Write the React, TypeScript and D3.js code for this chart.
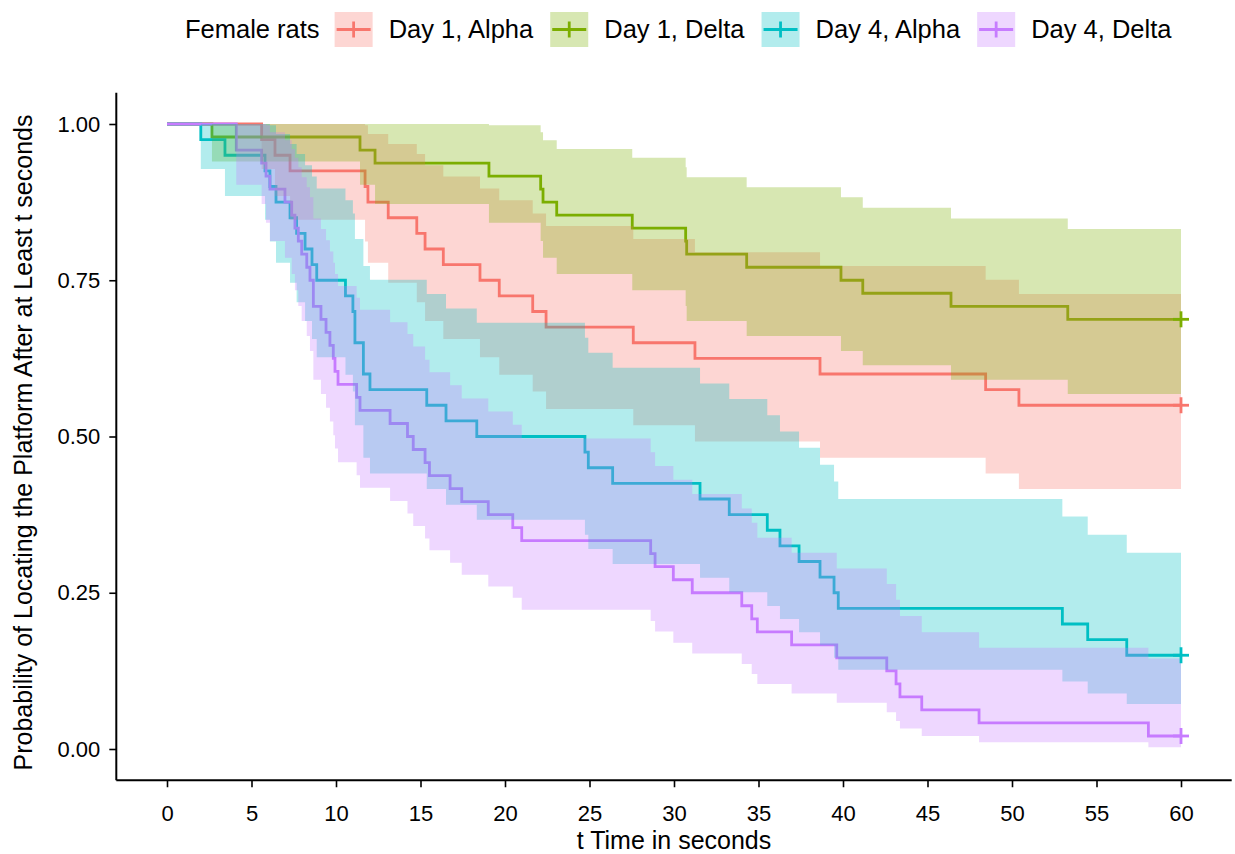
import React, { useEffect, useRef } from 'react';
import * as d3 from 'd3';

// groups, in legend order
const groupNames = ['Day 1, Alpha', 'Day 1, Delta', 'Day 4, Alpha', 'Day 4, Delta'];
const groupColors = ['#F8766D', '#7CAE00', '#00BFC4', '#C77CFF'];
const legendTitle = 'Female rats';

const xTicks = [0, 5, 10, 15, 20, 25, 30, 35, 40, 45, 50, 55, 60];
const yTicks = [0, 0.25, 0.5, 0.75, 1];

// Day 1, Alpha
const d1AlphaTime = [0, 5.6, 6.39, 7.28, 11.72, 11.89, 13.09, 14.78, 15.27, 16.35, 18.52, 19.66, 21.64, 22.43, 27.59, 31.24, 38.64, 48.44, 50.41, 60];
const d1AlphaSurv = [1, 0.975, 0.95, 0.925, 0.9, 0.875, 0.85, 0.825, 0.8, 0.775, 0.75, 0.725, 0.7, 0.675, 0.65, 0.625, 0.6, 0.575, 0.55, 0.55];
const d1AlphaUpper = [1, 1, 1, 1, 0.998, 0.984, 0.968, 0.952, 0.934, 0.916, 0.897, 0.878, 0.857, 0.837, 0.816, 0.795, 0.773, 0.751, 0.728, 0.728];
const d1AlphaLower = [1, 0.928, 0.885, 0.847, 0.812, 0.778, 0.746, 0.715, 0.685, 0.656, 0.627, 0.599, 0.572, 0.544, 0.518, 0.492, 0.466, 0.441, 0.416, 0.416];

// Day 1, Delta
const d1DeltaTime = [0, 2.66, 11.42, 12.31, 19.05, 22.11, 22.25, 23.06, 27.53, 30.69, 30.75, 34.3, 39.88, 41.17, 46.39, 53.3, 60];
const d1DeltaSurv = [1, 0.9792, 0.9583, 0.9375, 0.9167, 0.8958, 0.875, 0.8542, 0.8333, 0.8125, 0.7917, 0.7708, 0.75, 0.7292, 0.7083, 0.6875, 0.6875];
const d1DeltaUpper = [1, 1, 1, 1, 0.998, 0.987, 0.974, 0.96, 0.946, 0.931, 0.915, 0.899, 0.883, 0.866, 0.849, 0.832, 0.832];
const d1DeltaLower = [1, 0.94, 0.903, 0.872, 0.842, 0.813, 0.786, 0.76, 0.734, 0.709, 0.685, 0.661, 0.637, 0.614, 0.591, 0.568, 0.568];

// Day 4, Alpha
const d4AlphaTime = [0, 2.0, 3.43, 5.8, 6.09, 6.45, 7.28, 7.67, 8.17, 8.58, 8.86, 10.56, 11.0, 11.12, 11.62, 12.01, 15.37, 16.51, 18.33, 24.73, 24.93, 26.37, 31.54, 33.27, 35.52, 36.27, 37.4, 38.64, 39.47, 39.72, 52.98, 54.48, 56.79, 60];
const d4AlphaSurv = [1, 0.975, 0.95, 0.925, 0.9, 0.875, 0.85, 0.825, 0.8, 0.775, 0.75, 0.725, 0.7, 0.65, 0.6, 0.575, 0.55, 0.525, 0.5, 0.475, 0.45, 0.425, 0.4, 0.375, 0.35, 0.325, 0.3, 0.275, 0.25, 0.225, 0.2, 0.175, 0.15, 0.15];
const d4AlphaUpper = [1, 1, 1, 1, 0.998, 0.984, 0.968, 0.952, 0.934, 0.916, 0.897, 0.878, 0.857, 0.816, 0.773, 0.751, 0.728, 0.705, 0.682, 0.658, 0.634, 0.61, 0.585, 0.56, 0.534, 0.508, 0.482, 0.455, 0.428, 0.4, 0.372, 0.343, 0.314, 0.314];
const d4AlphaLower = [1, 0.928, 0.885, 0.847, 0.812, 0.778, 0.746, 0.715, 0.685, 0.656, 0.627, 0.599, 0.572, 0.518, 0.466, 0.441, 0.416, 0.391, 0.367, 0.343, 0.32, 0.296, 0.274, 0.251, 0.229, 0.208, 0.187, 0.166, 0.146, 0.127, 0.108, 0.089, 0.072, 0.072];

// Day 4, Delta
const d4DeltaTime = [0, 4.1, 5.6, 5.86, 6.09, 6.98, 7.38, 7.57, 7.77, 7.97, 8.27, 8.46, 8.66, 9.11, 9.41, 9.64, 9.84, 9.94, 10.12, 11.22, 11.42, 13.2, 14.23, 14.57, 15.27, 15.53, 16.75, 17.44, 19.01, 20.46, 20.99, 28.62, 28.88, 29.96, 31.08, 34.01, 34.6, 34.93, 36.96, 39.63, 42.59, 43.14, 43.37, 44.66, 48.05, 58.07, 60];
const d4DeltaSurv = [1, 0.9583, 0.9375, 0.9167, 0.8958, 0.875, 0.8542, 0.8333, 0.8125, 0.7917, 0.7708, 0.75, 0.7083, 0.6875, 0.6667, 0.6458, 0.625, 0.6042, 0.5833, 0.5625, 0.5417, 0.5208, 0.5, 0.4792, 0.4583, 0.4375, 0.4167, 0.3958, 0.375, 0.3542, 0.3333, 0.3125, 0.2917, 0.2708, 0.25, 0.2292, 0.2083, 0.1875, 0.1667, 0.1458, 0.125, 0.1042, 0.0833, 0.0625, 0.0417, 0.0208, 0.0208];
const d4DeltaUpper = [1, 1, 1, 0.998, 0.987, 0.974, 0.96, 0.946, 0.931, 0.915, 0.899, 0.883, 0.849, 0.832, 0.814, 0.796, 0.778, 0.76, 0.741, 0.722, 0.703, 0.683, 0.664, 0.644, 0.623, 0.603, 0.582, 0.561, 0.54, 0.519, 0.497, 0.475, 0.453, 0.431, 0.408, 0.385, 0.362, 0.338, 0.314, 0.289, 0.264, 0.239, 0.213, 0.187, 0.162, 0.145, 0.145];
const d4DeltaLower = [1, 0.903, 0.872, 0.842, 0.813, 0.786, 0.76, 0.734, 0.709, 0.685, 0.661, 0.637, 0.591, 0.568, 0.546, 0.524, 0.502, 0.481, 0.459, 0.438, 0.418, 0.397, 0.377, 0.357, 0.337, 0.318, 0.298, 0.279, 0.26, 0.242, 0.223, 0.205, 0.188, 0.17, 0.153, 0.136, 0.12, 0.104, 0.089, 0.074, 0.059, 0.045, 0.033, 0.021, 0.011, 0.003, 0.003];

const FONT = "'Liberation Sans', Arial, sans-serif";

type Pt = { t: number; s: number; hi: number; lo: number };

function zipCurve(t: number[], s: number[], hi: number[], lo: number[]): Pt[] {
  return t.map((v, i) => ({ t: v, s: s[i], hi: hi[i], lo: lo[i] }));
}

export default function App() {
  const svgRef = useRef<SVGSVGElement>(null);

  useEffect(() => {
    const curves = [
      zipCurve(d1AlphaTime, d1AlphaSurv, d1AlphaUpper, d1AlphaLower),
      zipCurve(d1DeltaTime, d1DeltaSurv, d1DeltaUpper, d1DeltaLower),
      zipCurve(d4AlphaTime, d4AlphaSurv, d4AlphaUpper, d4AlphaLower),
      zipCurve(d4DeltaTime, d4DeltaSurv, d4DeltaUpper, d4DeltaLower),
    ];

    const svg = d3.select(svgRef.current);
    svg.selectAll('*').remove();

    // panel with ggplot's 5% expansion
    const x = d3.scaleLinear().domain([-3, 63]).range([116.3, 1231.7]);
    const y = d3.scaleLinear().domain([-0.05, 1.05]).range([780.25, 92.75]);

    const line = d3.line<Pt>()
      .x(d => x(d.t))
      .y(d => y(d.s))
      .curve(d3.curveStepAfter);

    const band = d3.area<Pt>()
      .x(d => x(d.t))
      .y0(d => y(d.lo))
      .y1(d => y(d.hi))
      .curve(d3.curveStepAfter);

    // step lines first, ribbons go over them
    svg.append('g')
      .selectAll('path')
      .data(curves)
      .join('path')
        .attr('d', d => line(d))
        .attr('fill', 'none')
        .attr('stroke', (d, i) => groupColors[i])
        .attr('stroke-width', 2.8);

    svg.append('g')
      .selectAll('path')
      .data(curves)
      .join('path')
        .attr('d', d => band(d))
        .attr('fill', (d, i) => groupColors[i])
        .attr('fill-opacity', 0.3);

    // censor marks at the last time
    const cens = svg.append('g')
      .selectAll('g')
      .data(curves)
      .join('g')
        .attr('transform', d => `translate(${x(d[d.length - 1].t)},${y(d[d.length - 1].s)})`)
        .attr('stroke', (d, i) => groupColors[i])
        .attr('stroke-width', 2.8);
    cens.append('line').attr('x1', -8).attr('x2', 8);
    cens.append('line').attr('y1', -8).attr('y2', 8);

    // axes
    const xAxis = d3.axisBottom(x).tickValues(xTicks).tickSize(7).tickPadding(18).tickSizeOuter(0);
    const gx = svg.append('g').attr('transform', `translate(0,${y(-0.05)})`).call(xAxis);
    const yAxis = d3.axisLeft(y).tickValues(yTicks).tickFormat(d3.format('.2f')).tickSize(7).tickPadding(9).tickSizeOuter(0);
    const gy = svg.append('g').attr('transform', `translate(${x(-3)},0)`).call(yAxis);

    [gx, gy].forEach(g => {
      g.attr('font-size', null).attr('font-family', null);
      g.select('.domain').remove();
      g.selectAll('.tick line').attr('stroke', '#000').attr('stroke-width', 1.6);
      g.selectAll('.tick text')
        .attr('fill', '#000')
        .style('font-family', FONT)
        .style('font-size', '22px');
    });

    svg.append('line')
      .attr('x1', x(-3)).attr('x2', x(63))
      .attr('y1', y(-0.05)).attr('y2', y(-0.05))
      .attr('stroke', '#000').attr('stroke-width', 2);
    svg.append('line')
      .attr('x1', x(-3)).attr('x2', x(-3))
      .attr('y1', y(-0.05)).attr('y2', y(1.05))
      .attr('stroke', '#000').attr('stroke-width', 2);

    // axis titles
    svg.append('text')
      .attr('x', (x(-3) + x(63)) / 2)
      .attr('y', 849)
      .attr('text-anchor', 'middle')
      .style('font-family', FONT)
      .style('font-size', '25px')
      .text('t Time in seconds');

    svg.append('text')
      .attr('transform', `translate(32,${(y(-0.05) + y(1.05)) / 2 + 6}) rotate(-90)`)
      .attr('text-anchor', 'middle')
      .style('font-family', FONT)
      .style('font-size', '25px')
      .text('Probability of Locating the Platform After at Least t seconds');

    // legend
    const lg = svg.append('g');
    const keyW = 38, keyH = 35, keyTop = 12, midY = keyTop + keyH / 2;
    let cx = 185;
    const title = lg.append('text')
      .attr('x', cx).attr('y', 38)
      .style('font-family', FONT).style('font-size', '25.5px')
      .text(legendTitle);
    cx += (title.node() as SVGTextElement).getComputedTextLength() + 15;
    groupNames.forEach((name, i) => {
      lg.append('rect')
        .attr('x', cx).attr('y', keyTop).attr('width', keyW).attr('height', keyH)
        .attr('fill', groupColors[i]).attr('fill-opacity', 0.3);
      lg.append('line')
        .attr('x1', cx + 2).attr('x2', cx + keyW - 2).attr('y1', midY).attr('y2', midY)
        .attr('stroke', groupColors[i]).attr('stroke-width', 2.8);
      lg.append('line')
        .attr('x1', cx + keyW / 2).attr('x2', cx + keyW / 2).attr('y1', midY - 8).attr('y2', midY + 8)
        .attr('stroke', groupColors[i]).attr('stroke-width', 2.8);
      cx += keyW + 16;
      const t = lg.append('text')
        .attr('x', cx).attr('y', 38)
        .style('font-family', FONT).style('font-size', '25.5px')
        .text(name);
      cx += (t.node() as SVGTextElement).getComputedTextLength() + 17;
    });
  }, []);

  return (
    <svg
      ref={svgRef}
      width={1235}
      height={854}
      style={{ position: 'absolute', left: 0, top: 0, background: '#fff' }}
    />
  );
}
